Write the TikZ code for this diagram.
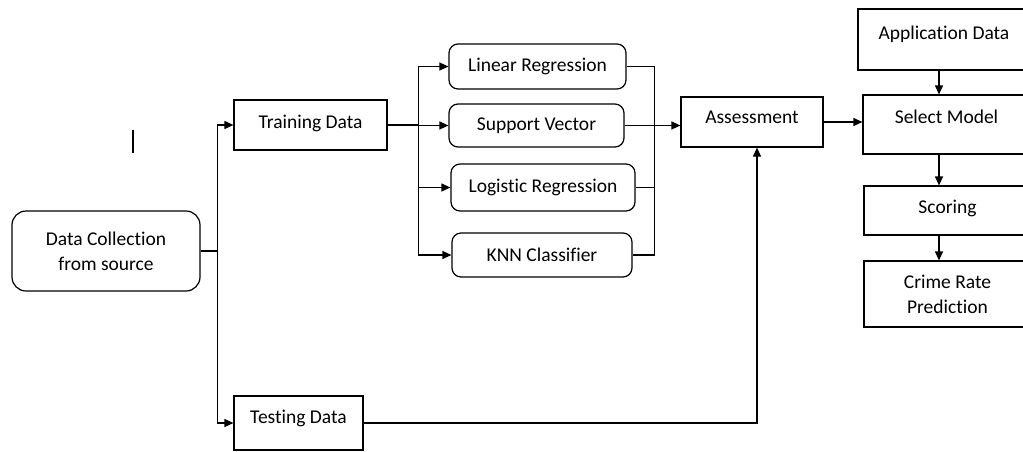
\documentclass[tikz,border=0pt]{standalone}
\usepackage{fontspec}
\setmainfont[Ligatures=NoCommon]{Carlito}
\usetikzlibrary{arrows.meta,positioning,calc}

\begin{document}
\begin{tikzpicture}[x=1pt, y=-1pt,
    arr/.style={-{Triangle[length=9pt,width=8pt]}, line width=1.2pt},
    ln/.style={line width=1.2pt},
    box/.style={rectangle, draw, line width=1.2pt, inner sep=0pt,
        font=\fontsize{19.5}{25}\selectfont, align=center},
    rbox/.style={box, rounded corners=9pt},
    lift/.style={text height=13pt, text depth=#1}
]
    \useasboundingbox (0,0) rectangle (1023,451);
    \clip (0,0) rectangle (1023,451);

    \node[rbox, minimum width=188pt, minimum height=80pt, rounded corners=14pt] (dc) at (106,251) {Data Collection\\from source};
    \node[box, minimum width=153pt, minimum height=50pt, lift=6.4pt] (train) at (310.5,125) {Training Data};
    \node[box, minimum width=129pt, minimum height=54pt, lift=12.4pt] (test) at (298.5,423) {Testing Data};

    \node[rbox, minimum width=177pt, minimum height=45pt] (linreg) at (537.5,66.5) {Linear Regression};
    \node[rbox, minimum width=175pt, minimum height=43pt] (svm) at (536.5,125.5) {Support Vector};
    \node[rbox, minimum width=184pt, minimum height=47pt] (logreg) at (543,187.5) {Logistic Regression};
    \node[rbox, minimum width=180pt, minimum height=44pt] (knn) at (542,255) {KNN Classifier};

    \node[box, minimum width=142pt, minimum height=50pt, lift=10.4pt] (assess) at (752,122) {Assessment};
    \node[box, minimum width=172pt, minimum height=61pt, lift=13.4pt] (appdata) at (944,39.5) {Application Data};
    \node[box, minimum width=167pt, minimum height=59pt, lift=15.4pt] (select) at (946.5,124.5) {Select Model};
    \node[box, minimum width=167pt, minimum height=49pt, lift=7.4pt] (scoring) at (947.5,210.5) {Scoring};
    \node[box, minimum width=167pt, minimum height=66pt] (predict) at (947.5,294) {Crime Rate\\Prediction};

    % stray mark
    \draw[ln] (133,130) -- (133,153);

    % split into training / testing
    \draw[ln] (dc.east) -- ++(17,0) coordinate (split);
    \draw[arr] (split) |- (train);
    \draw[arr] (split) |- (test);

    % models
    \draw[ln] (train.east) -- ++(31,0) coordinate (fork);
    \draw[arr] (fork) |- (linreg);
    \draw[arr] (fork) |- (svm);
    \draw[arr] (fork) |- (logreg);
    \draw[arr] (fork) |- (knn);

    \draw[ln] (linreg.east) -| ($(knn.east)+(22,0)$) -- (knn.east);
    \draw[ln] (logreg.east) -- ++(19,0);
    \draw[arr] (svm.east) -- (svm.east -| assess.west);
    \draw[arr] (test.east) -| ([xshift=5pt]assess.south);
    \draw[arr] (assess.east) -- (assess.east -| select.west);

    % right column
    \draw[arr] ([xshift=-5pt]appdata.south) -- ([xshift=-5pt]appdata.south |- select.north);
    \draw[arr] ([xshift=-7.5pt]select.south) -- ([xshift=-7.5pt]select.south |- scoring.north);
    \draw[arr] ([xshift=-8.5pt]scoring.south) -- ([xshift=-8.5pt]scoring.south |- predict.north);
\end{tikzpicture}
\end{document}
